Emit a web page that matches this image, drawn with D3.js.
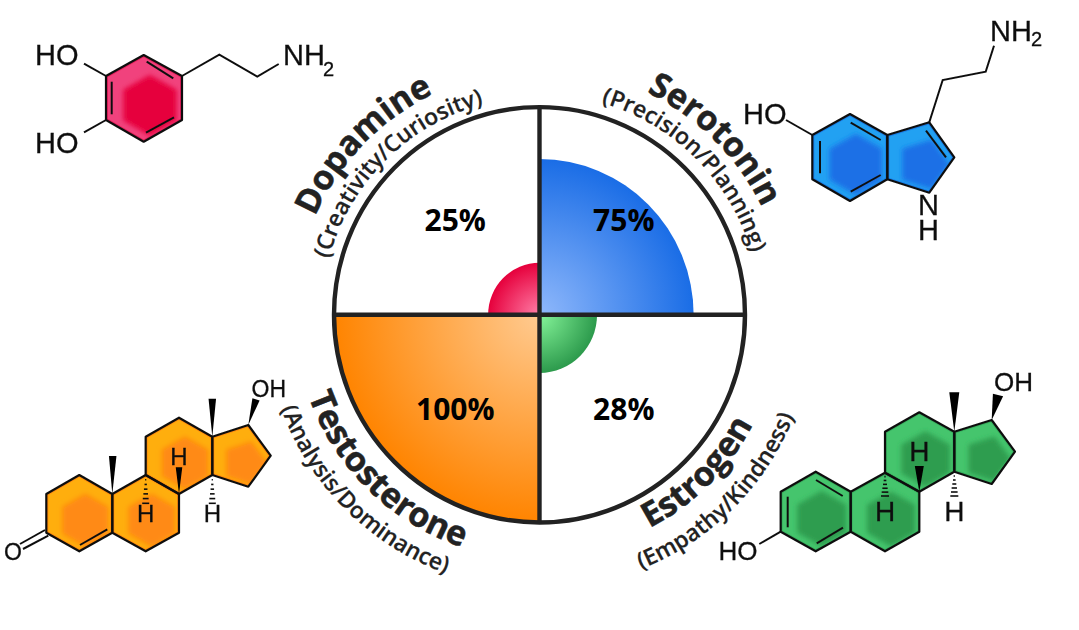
<!DOCTYPE html>
<html><head><meta charset="utf-8">
<style>html,body{margin:0;padding:0;background:#fff}svg{display:block}</style>
<script src="https://cdn.jsdelivr.net/npm/d3@7"></script></head>
<body><svg id="c" width="1079" height="630"></svg>
<script>
// ---------- chart data ----------
const hormones = ["Dopamine","Serotonin","Estrogen","Testosterone"];
const traits = ["(Creativity/Curiosity)","(Precision/Planning)","(Empathy/Kindness)","(Analysis/Dominance)"];
const percentValues = [25,75,28,100];
const quadrantStart = [-90,0,90,180];
const gradientInner = ["#ff7fa8","#8fb8fb","#86f59a","#ffca90"];
const gradientOuter = ["#e6003c","#1a6de6","#2c9a4c","#ff8400"];
const nameRadius = [245,247,240,245];
const traitRadius = [218,221,274,275];

// ---------- molecule drawings (page pixels) ----------
const dopamineRings = [[[143.7,55],[182,76],[182,120],[143.7,141.7],[106,120],[106,76]]];
const dopamineBonds = [[[182,76],[219.3,54.7],[257.3,76.7],[278.7,64]],[[106,76],[84,63.7]],[[106,120],[84,132.3]],
  [[146.7,61.7],[173.3,78.3]],[[111.7,81.7],[111.7,114.3]],[[146,132.7],[174,117.3]]];
const dopamineLabels = [["HO",35,65,29,"start"],["HO",35,153,29,"start"],["NH",283,65,29,"start"],["2",323,76,20,"start"]];

const serotoninRings = [[[850,114],[887.3,135],[887.3,179.3],[850,201],[812.3,179.3],[812.3,135]],
  [[887.3,135],[929.3,122.3],[954.3,157.3],[929.3,192.7],[887.3,179.3]]];
const serotoninBonds = [[[929.3,122.3],[942.7,80],[985.7,71.7],[994,45.7]],[[812.3,135],[786,120]],
  [[850.7,122.7],[880.7,140]],[[820,141],[820,173.3]],[[850.7,191.7],[880.7,175]],[[926,130.7],[946,157.3]]];
const serotoninLabels = [["HO",743,124,29,"start"],["NH",990,41,29,"start"],["2",1031,46,20,"start"],["N",928.5,215,29,"middle"],["H",928.5,240,29,"middle"]];

const testosteroneRings = [[[79.3,475],[112.3,494],[112.3,532.7],[79.3,551.3],[46.3,532.7],[46.3,494]],
  [[112.3,494],[145.7,475],[179,494],[179,532.7],[145.7,551.3],[112.3,532.7]],
  [[145.7,475],[145.7,436.7],[179,417.7],[212.3,436.7],[212.3,475],[179,494]],
  [[212.3,436.7],[248.3,425],[270.7,455.7],[248.3,486.7],[212.3,475]]];
const testosteroneBonds = [[[45,530],[20,544]],[[48.3,535.7],[23,549]],[[80,545],[107.3,529.3]]];
const testosteroneWedges = [[[112.3,494],[112.7,456],7.5],[[212.3,436.7],[212.3,398.7],7.5],[[248.3,425],[256,399.3],7.5],[[179,494],[179,467.3],6.5]];
const testosteroneHashes = [[[145.7,475],[145.7,503.3],7],[[212.3,475],[212.3,503.3],7]];
const testosteroneLabels = [["O",13,560,23,"middle"],["OH",251.5,396.7,23,"start"],["H",179,465,24,"middle"],["H",145.7,522,24,"middle"],["H",212.3,522,24,"middle"]];

const estrogenRings = [[[815.7,471.7],[850.7,491.7],[850.7,531.7],[815.7,551.3],[780.7,531.7],[780.7,491.7]],
  [[850.7,491.7],[885,472.7],[919.3,491.7],[919.3,531.7],[885,551.3],[850.7,531.7]],
  [[885,472.7],[885,431.7],[919.3,412.3],[954.3,431.7],[954.3,471.7],[919.3,491.7]],
  [[954.3,431.7],[991.7,420],[1015,451.7],[991.7,484],[954.3,471.7]]];
const estrogenBonds = [[[780.7,531.7],[759.3,544]],[[816,480],[842.7,496]],[[787.7,496.7],[787.7,527.3]],[[816.7,543.3],[843,527.7]]];
const estrogenWedges = [[[954.3,431.7],[954.3,392.3],10],[[991.7,420],[998,395],10.5],[[919.3,491.7],[919.3,466],9]];
const estrogenHashes = [[[885,472.7],[885,496],8],[[954.3,472],[954.3,496],8]];
const estrogenLabels = [["HO",718.5,560,26,"start"],["OH",994,391,26,"start"],["H",919.3,461,28,"middle"],["H",885,521,28,"middle"],["H",954.3,521,28,"middle"]];

const molecules = [
 {rings:dopamineRings,bonds:dopamineBonds,wedges:[],hashes:[],labels:dopamineLabels,light:"#f1437d",dark:"#e6003c",edge:"#e8205c"},
 {rings:serotoninRings,bonds:serotoninBonds,wedges:[],hashes:[],labels:serotoninLabels,light:"#22a1f2",dark:"#1a6fe6",edge:"#1a7ce6"},
 {rings:testosteroneRings,bonds:testosteroneBonds,wedges:testosteroneWedges,hashes:testosteroneHashes,labels:testosteroneLabels,light:"#ffae0a",dark:"#ff8a12",edge:"#ff8a12"},
 {rings:estrogenRings,bonds:estrogenBonds,wedges:estrogenWedges,hashes:estrogenHashes,labels:estrogenLabels,light:"#45c56d",dark:"#2e9d50",edge:"#38b05e"}
];

// ---------- layout ----------
const cx=539.5, cy=314.8, rx=205.5, ry=207.7, R=206.5;
const svg=d3.select("#c");
const defs=svg.append("defs");
defs.append("filter").attr("id","soft").attr("x","-30%").attr("y","-30%").attr("width","160%").attr("height","160%")
  .append("feGaussianBlur").attr("stdDeviation",2.4);
defs.append("filter").attr("id","soft2").append("feGaussianBlur").attr("stdDeviation",0.35);

// ---------- molecules ----------
const line=d3.line(), closed=d3.line().curve(d3.curveLinearClosed);
molecules.forEach((m,mi)=>{
  const g=svg.append("g").attr("filter","url(#soft2)");
  m.rings.forEach((ring,ri)=>{
    const id=`ring${mi}_${ri}`;
    defs.append("clipPath").attr("id",id).append("path").attr("d",closed(ring));
    const rg=g.append("g").attr("clip-path",`url(#${id})`);
    rg.append("path").attr("d",closed(ring)).attr("fill",m.light);
    const c=d3.polygonCentroid(ring);
    const inner=ring.map(p=>[c[0]+(p[0]-c[0])*0.7+6,c[1]+(p[1]-c[1])*0.7+7]);
    rg.append("path").attr("d",closed(inner)).attr("fill",m.dark).attr("filter","url(#soft)");
    rg.append("path").attr("d",closed(ring)).attr("fill","none").attr("stroke",m.edge).attr("stroke-width",4);
  });
  m.rings.forEach(ring=>g.append("path").attr("d",closed(ring)).attr("fill","none").attr("stroke","#111").attr("stroke-width",2.2).attr("stroke-linejoin","round"));
  m.bonds.forEach(b=>g.append("path").attr("d",line(b)).attr("fill","none").attr("stroke","#111").attr("stroke-width",2));
  m.wedges.forEach(([a,b,w])=>{
    const dx=b[0]-a[0],dy=b[1]-a[1],l=Math.hypot(dx,dy),nx=-dy/l*w/2,ny=dx/l*w/2;
    g.append("path").attr("d",closed([a,[b[0]+nx,b[1]+ny],[b[0]-nx,b[1]-ny]])).attr("fill","#000");
  });
  m.hashes.forEach(([a,b,w])=>{
    d3.range(1,7).forEach(i=>{const t=i/6,y=a[1]+(b[1]-a[1])*t,hw=w/2*t;
      g.append("path").attr("d",line([[a[0]-hw,y],[a[0]+hw,y]])).attr("stroke","#111").attr("stroke-width",1.6);});
  });
  m.labels.forEach(([t,x,y,s,anc])=>g.append("text").attr("x",x).attr("y",y).attr("text-anchor",anc)
    .attr("font-family","'Liberation Sans',Arial,sans-serif").attr("font-size",s).attr("fill","#111").attr("stroke","#111").attr("stroke-width",0.3).text(t));
});

// ---------- radial chart ----------
const rScale=d3.scaleLinear().domain([0,100]).range([0,R]);
const chart=svg.append("g").attr("transform",`translate(${cx},${cy}) scale(${rx/R},${ry/R})`);
const arc=d3.arc().innerRadius(0);
hormones.forEach((h,i)=>{
  const gid="grad"+i, r=rScale(percentValues[i]);
  const gr=defs.append("radialGradient").attr("id",gid).attr("gradientUnits","userSpaceOnUse").attr("cx",0).attr("cy",0).attr("r",r);
  gr.append("stop").attr("offset",0).attr("stop-color",gradientInner[i]);
  gr.append("stop").attr("offset",1).attr("stop-color",gradientOuter[i]);
  const a0=quadrantStart[i]*Math.PI/180;
  chart.append("path").attr("d",arc({outerRadius:r,startAngle:a0,endAngle:a0+Math.PI/2})).attr("fill",`url(#${gid})`);
});
svg.append("ellipse").attr("cx",cx).attr("cy",cy).attr("rx",rx).attr("ry",ry).attr("fill","none").attr("stroke","#222").attr("stroke-width",4.4);
svg.append("line").attr("x1",cx-rx).attr("x2",cx+rx).attr("y1",cy).attr("y2",cy).attr("stroke","#222").attr("stroke-width",4.4);
svg.append("line").attr("x1",cx).attr("x2",cx).attr("y1",cy-ry).attr("y2",cy+ry).attr("stroke","#222").attr("stroke-width",4.4);

// percent labels
const sx=[-1,1,1,-1], sy=[-1,-1,1,1];
hormones.forEach((h,i)=>{
  svg.append("text").attr("x",cx+sx[i]*rx*0.41).attr("y",cy+sy[i]*ry*0.455+10.5)
    .attr("text-anchor","middle").attr("font-family","'Open Sans',sans-serif").attr("font-weight",700)
    .attr("font-size",30).attr("fill","#000").text(percentValues[i]+"%");
});

// curved labels
function curved(id,text,radius,midDeg,ccw,size,weight,halo){
  const mid=midDeg*Math.PI/180, sp=1.45, p=d3.path();
  if(ccw) p.arc(cx,cy,radius,mid+sp,mid-sp,true); else p.arc(cx,cy,radius,mid-sp,mid+sp,false);
  defs.append("path").attr("id",id).attr("d",p.toString());
  svg.append("text").attr("font-family","'Open Sans',sans-serif").attr("font-weight",weight).attr("font-size",size).attr("fill","#222")
    .attr("stroke","#222").attr("stroke-width",halo)
    .attr("text-anchor","middle").append("textPath").attr("href","#"+id).attr("startOffset","50%").text(text);
}
const nameMid=[-136,-45,45,134.5], traitMid=[-135,-45,45,135], ccwFlags=[false,false,true,true];
hormones.forEach((h,i)=>{
  curved("n"+i,h,nameRadius[i],nameMid[i],ccwFlags[i],34,700,0.5);
  curved("t"+i,traits[i],traitRadius[i],traitMid[i],ccwFlags[i],23,600,0.2);
});
</script></body></html>
